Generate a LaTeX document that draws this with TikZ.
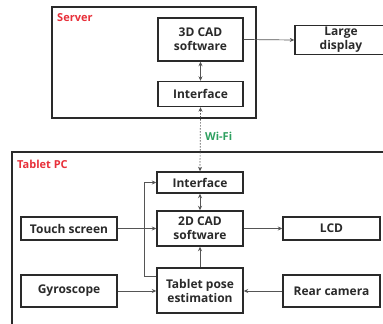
\documentclass[tikz,border=0pt]{standalone}
\usepackage{fontspec}
\setmainfont{Open Sans}
\usetikzlibrary{arrows.meta}
\definecolor{boxline}{HTML}{2A2A2A}
\definecolor{labelred}{HTML}{E8303A}
\definecolor{wifigreen}{HTML}{2EA060}
\tikzset{
  block/.style={draw=boxline, line width=1.4pt, fill=white, align=center,
    font=\bfseries\fontsize{12}{14}\selectfont, text=boxline, inner sep=0pt},
  frame/.style={draw=boxline, line width=1.4pt},
  arr/.style={draw=boxline!80, line width=0.7pt, -{Stealth[length=4.5pt,width=4pt]}},
  biarr/.style={draw=boxline!80, line width=0.7pt, {Stealth[length=4.5pt,width=4pt]}-{Stealth[length=4.5pt,width=4pt]}},
  grouplabel/.style={font=\bfseries\fontsize{11}{13}\selectfont, anchor=west, inner sep=0pt}
}
\begin{document}
\begin{tikzpicture}[x=1pt,y=-1pt]
\clip (0,0) rectangle (383,324);
\fill[white] (0,0) rectangle (383,324);

% server side
\draw[frame] (52,7) rectangle (256,118);
\node[grouplabel, text=labelred] (srvlabel) at (57,18) {Server};
\node[block, minimum width=85pt, minimum height=43pt] (cad3d) at (200.5,39.5) {3D CAD\\software};
\node[block, minimum width=85pt, minimum height=25pt] (sif) at (200.5,94) {Interface};
\node[block, minimum width=92pt, minimum height=29pt] (large) at (341,40) {Large\\display};

% tablet side
\draw[frame] (12,152) rectangle (392,332);
\node[grouplabel, text=labelred] (tablabel) at (17,164) {Tablet PC};
\node[block, minimum width=86pt, minimum height=21pt] (tif) at (200,182.5) {Interface};
\node[block, minimum width=86pt, minimum height=35pt] (cad2d) at (200,228.5) {2D CAD\\software};
\node[block, minimum width=96pt, minimum height=23pt] (touch) at (69,228.5) {Touch screen};
\node[block, minimum width=97pt, minimum height=23pt] (lcd) at (331.5,228.5) {LCD};
\node[block, minimum width=86pt, minimum height=45pt] (pose) at (200,290.5) {Tablet pose\\estimation};
\node[block, minimum width=96pt, minimum height=32pt] (gyro) at (69,291) {Gyroscope};
\node[block, minimum width=97pt, minimum height=32pt] (rear) at (331.5,291) {Rear camera};

% connectors
\draw[arr] (cad3d.east) -- (large.west);
\draw[biarr] (cad3d.south) -- (sif.north);
\draw[biarr, dash pattern=on 1.5pt off 1.5pt] (tif.north) -- (sif.south);
\node[grouplabel, text=wifigreen] (wifi) at (205,136) {Wi-Fi};
\draw[biarr] (tif.south) -- (cad2d.north);
\draw[arr] (touch.east) -- (cad2d.west);
\draw[arr] (cad2d.east) -- (lcd.west);
\draw[arr] (pose.north) -- (cad2d.south);
\draw[arr] (gyro.east) -- (pose.west |- gyro.east);
\draw[arr] (rear.west) -- (pose.east |- rear.west);
\draw[arr] ([yshift=-9pt]pose.north west) -- ++(-12,0) |- (tif.west);
\end{tikzpicture}
\end{document}
